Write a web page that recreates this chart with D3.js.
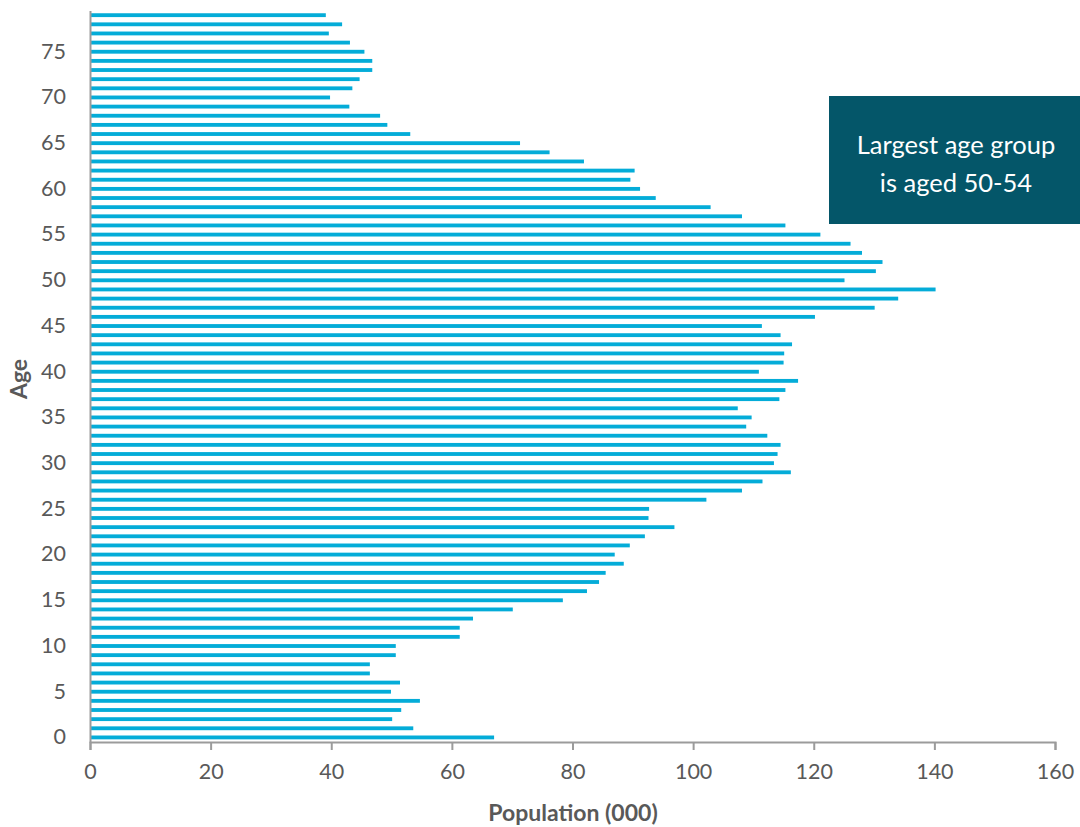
<!DOCTYPE html>
<html>
<head>
<meta charset="utf-8">
<script src="https://cdn.jsdelivr.net/npm/d3@7"></script>
<style>
  html, body { margin: 0; padding: 0; background: #fff; }
  svg { display: block; }
</style>
</head>
<body>
<svg id="chart" width="1080" height="827"></svg>
<script>
// Single-year ages 0..79
const ages = d3.range(0, 80);

// Population in thousands, by single year of age (0..79)
const population = [
  67.0, 53.6, 50.1, 51.6, 54.7, 49.9, 51.4, 46.4, 46.4, 50.7,
  50.7, 61.3, 61.3, 63.5, 70.1, 78.4, 82.4, 84.4, 85.5, 88.5,
  87.0, 89.5, 92.0, 96.9, 92.6, 92.7, 102.2, 108.1, 111.5, 116.2,
  113.4, 114.0, 114.5, 112.3, 108.8, 109.7, 107.4, 114.3, 115.3, 117.4,
  110.9, 115.0, 115.1, 116.4, 114.5, 111.4, 120.2, 130.1, 134.0, 140.2,
  125.1, 130.3, 131.4, 128.0, 126.1, 121.1, 115.3, 108.1, 102.9, 93.8,
  91.2, 89.6, 90.3, 81.9, 76.2, 71.3, 53.1, 49.3, 48.1, 43.0,
  39.8, 43.5, 44.7, 46.8, 46.8, 45.5, 43.1, 39.6, 41.8, 39.1
];

const xTicks = [0, 20, 40, 60, 80, 100, 120, 140, 160];
const yTicks = [0, 5, 10, 15, 20, 25, 30, 35, 40, 45, 50, 55, 60, 65, 70, 75];

const xTitle = "Population (000)";
const yTitle = "Age";
const calloutLines = ["Largest age group", "is aged 50-54"];

const data = ages.map((a, i) => ({ age: a, value: population[i] }));

const svg = d3.select("#chart");
const font = "Lato, 'Open Sans', sans-serif";
const textGrey = "#595959";
const axisGrey = "#9b9b9b";
const barColor = "#04acd8";

const plot = { left: 90, right: 1055, top: 10.6, bottom: 742 };

const x = d3.scaleLinear().domain([0, 160]).range([plot.left, plot.right]);
const y = d3.scaleBand().domain(ages).range([plot.bottom, plot.top]).paddingInner(0.58).paddingOuter(0.29);

// Bars
svg.append("g")
  .selectAll("rect")
  .data(data)
  .join("rect")
  .attr("x", x(0))
  .attr("y", d => y(d.age))
  .attr("width", d => x(d.value) - x(0))
  .attr("height", y.bandwidth())
  .attr("fill", barColor);

// X axis
const xAxis = svg.append("g")
  .attr("transform", `translate(0,${plot.bottom})`)
  .call(d3.axisBottom(x).tickValues(xTicks).tickSize(8).tickPadding(14).tickFormat(d3.format("d")));
xAxis.select(".domain").attr("stroke", axisGrey).attr("stroke-width", 2);
xAxis.selectAll(".tick line").attr("stroke", axisGrey).attr("stroke-width", 2);
xAxis.selectAll(".tick text")
  .attr("fill", textGrey)
  .style("font-family", font)
  .style("font-size", "21.5px");

// Y axis (labels only every 5 years, no tick marks)
const yAxis = svg.append("g")
  .attr("transform", `translate(${plot.left},0)`)
  .call(d3.axisLeft(y).tickValues(yTicks).tickSize(0).tickPadding(24));
yAxis.select(".domain").attr("stroke", axisGrey).attr("stroke-width", 2);
yAxis.selectAll(".tick text")
  .attr("fill", textGrey)
  .style("font-family", font)
  .style("font-size", "21.5px");

// Axis titles
svg.append("text")
  .attr("x", 573)
  .attr("y", 821)
  .attr("text-anchor", "middle")
  .attr("fill", textGrey)
  .style("font-family", font)
  .style("font-weight", "bold")
  .style("font-size", "23px")
  .text(xTitle);

svg.append("text")
  .attr("transform", "translate(27,379) rotate(-90)")
  .attr("text-anchor", "middle")
  .attr("fill", textGrey)
  .style("font-family", font)
  .style("font-weight", "bold")
  .style("font-size", "23px")
  .text(yTitle);

// Callout box
const box = svg.append("g");
box.append("rect")
  .attr("x", 829).attr("y", 96)
  .attr("width", 251).attr("height", 128)
  .attr("fill", "#045669");
box.selectAll("text")
  .data(calloutLines)
  .join("text")
  .attr("x", 956)
  .attr("y", (d, i) => 154 + i * 38)
  .attr("text-anchor", "middle")
  .attr("fill", "#ffffff")
  .style("font-family", font)
  .style("font-size", "25.5px")
  .text(d => d);
</script>
</body>
</html>
